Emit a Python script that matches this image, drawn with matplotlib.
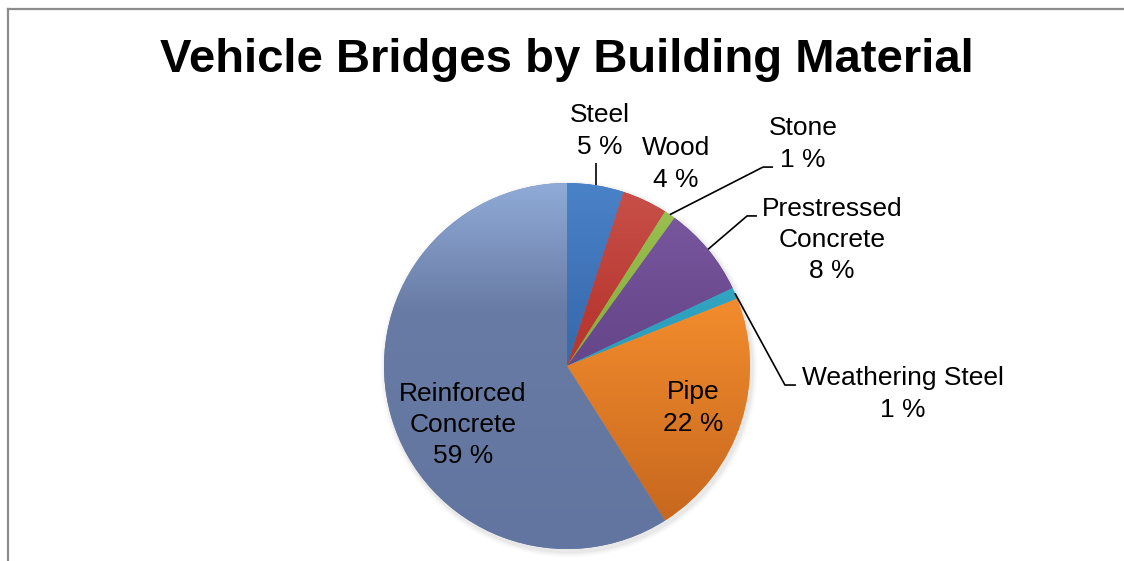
import numpy as np
import matplotlib
matplotlib.use("Agg")
import matplotlib.pyplot as plt
from matplotlib.colors import LinearSegmentedColormap
from matplotlib.lines import Line2D

plt.rcParams['font.family'] = ['Liberation Sans', 'DejaVu Sans']

title = "Vehicle Bridges by Building Material"
materials = ["Steel", "Wood", "Stone", "Prestressed\nConcrete", "Weathering Steel",
             "Pipe", "Reinforced\nConcrete"]
shares = [5, 4, 1, 8, 1, 22, 59]

# gradient stops per slice: top, middle, bottom
grad_colors = [
    ("#4A82C8", "#3B6FB3", "#2E5A93"),
    ("#C9514B", "#BA3A33", "#9E2E28"),
    ("#9BC253", "#8DB441", "#7A9E35"),
    ("#7C5BA3", "#6B4A90", "#583B78"),
    ("#45B5D0", "#2FA2BF", "#2788A2"),
    ("#F79A48", "#F08A2C", "#C2631D"),
    ("#90ABD8", "#687BA4", "#6275A0"),
]

# label placement (data units, pie radius = 1) and leader elbows
label_pos = [(0.18, 1.284), (0.596, 1.104), (1.29, 1.213), (1.448, 0.689),
             (1.836, -0.153), (0.689, -0.23), (-0.568, -0.322)]
leaders = {0: [(None, 1.109)],
           2: [(1.071, 1.087), (1.126, 1.087)],
           3: [(0.984, 0.820), (1.038, 0.820)],
           4: [(1.191, -0.104), (1.251, -0.104)]}

fig = plt.figure(figsize=(11.24, 5.61), dpi=100)
ax = fig.add_axes([0, 0, 1, 1])

cx, cy, r = 567, 366, 183
wedges, _ = ax.pie(shares, startangle=90, counterclock=False, radius=1,
                   colors=[c[1] for c in grad_colors],
                   wedgeprops=dict(linewidth=0))

ax.set_aspect('auto')
ax.axis('off')

# soft shadow behind the pie
for k, a in enumerate([0.04, 0.03, 0.02]):
    sh = plt.Circle((0.01, -0.015), 1.0 + 0.01 * (k + 1), color="black",
                    alpha=a, zorder=0, linewidth=0)
    ax.add_patch(sh)

for w, cols in zip(wedges, grad_colors):
    w.set_zorder(2)
    cmap = LinearSegmentedColormap.from_list("g", [(0, cols[0]), (0.35, cols[1]), (1, cols[2])])
    grad = np.linspace(0, 1, 256).reshape(-1, 1)
    im = ax.imshow(grad, cmap=cmap, extent=(-1, 1, -1, 1), origin='upper',
                   aspect='auto', zorder=3, interpolation='bilinear')
    im.set_clip_path(w)

ax.set_xlim(-cx / r, (1124 - cx) / r)
ax.set_ylim((cy - 561) / r, cy / r)

for i, (w, name, v) in enumerate(zip(wedges, materials, shares)):
    mid = np.deg2rad((w.theta1 + w.theta2) / 2)
    sx, sy = np.cos(mid), np.sin(mid)
    if i in leaders:
        xs, ys = [sx], [sy]
        for px, py in leaders[i]:
            xs.append(sx if px is None else px)
            ys.append(py)
        ax.plot(xs, ys, color="black", lw=1.2, zorder=5, solid_capstyle='butt')
    tx, ty = label_pos[i]
    ax.text(tx, ty, f"{name}\n{v} %", ha="center", va="center", fontsize=19,
            linespacing=1.38, color="black", zorder=6)

fig.text(567 / 1124, 1 - 60 / 561, title, ha="center", va="center",
         fontsize=34, fontweight="bold")

# chart area border (top and left visible)
fig.add_artist(Line2D([8 / 1124, 8 / 1124], [0, 1 - 9 / 561], color="#8c8c8c", lw=1.6,
                      transform=fig.transFigure))
fig.add_artist(Line2D([8 / 1124, 1], [1 - 9 / 561, 1 - 9 / 561], color="#8c8c8c", lw=1.6,
                      transform=fig.transFigure))

fig.savefig("out.png", dpi=100)
